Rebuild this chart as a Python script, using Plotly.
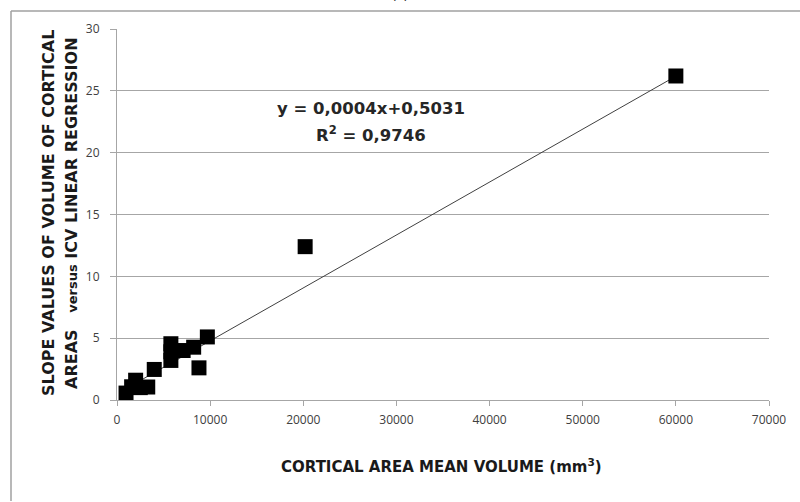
import plotly.graph_objects as go

# data
mean_volume = [970, 1570, 2000, 2500, 3300, 4000, 5785, 5785, 5785, 7100, 8230, 8800, 9700, 20200, 60000]
slope_values = [0.56, 1.07, 1.6, 1.0, 1.05, 2.47, 4.55, 3.9, 3.2, 4.0, 4.27, 2.6, 5.1, 12.4, 26.2]
x_ticks = [0, 10000, 20000, 30000, 40000, 50000, 60000, 70000]
y_ticks = [0, 5, 10, 15, 20, 25, 30]
trend_slope = 0.000428
trend_intercept = 0.5031
equation = "y = 0,0004x+0,5031"
r_squared = "R<sup>2</sup> = 0,9746"

line_x = [min(mean_volume), max(mean_volume)]
line_y = [trend_slope * v + trend_intercept for v in line_x]

fig = go.Figure()
fig.add_trace(go.Scatter(x=line_x, y=line_y, mode="lines",
                         line=dict(color="#404040", width=1), hoverinfo="skip"))
fig.add_trace(go.Scatter(x=mean_volume, y=slope_values, mode="markers",
                         marker=dict(symbol="square", size=15, color="black",
                                     line=dict(width=0))))

tick_font = "Open Sans, sans-serif"
title_font = "DejaVu Sans, sans-serif"
L, T, W, H = 117, 29, 652, 371
fig.update_layout(
    width=800, height=502,
    margin=dict(l=L, r=800 - L - W, t=T, b=502 - T - H),
    paper_bgcolor="white", plot_bgcolor="white",
    showlegend=False,
    font=dict(family=tick_font, size=12, color="#404040"),
    xaxis=dict(range=[0, 70000], tickvals=x_ticks, ticktext=[str(v) for v in x_ticks],
               showgrid=False, zeroline=False, showline=True, linecolor="#a6a6a6",
               linewidth=1, ticks="outside", ticklen=5, tickcolor="#a6a6a6",
               ticklabelstandoff=4,
               tickfont=dict(size=12, color="#404040")),
    yaxis=dict(range=[0, 30], tickvals=y_ticks, showgrid=True, gridcolor="#a6a6a6",
               gridwidth=1, zeroline=False, showline=True, linecolor="#a6a6a6",
               linewidth=1, ticks="outside", ticklen=6, tickcolor="#a6a6a6",
               ticklabelstandoff=8,
               tickfont=dict(size=12, color="#404040")),
)

fig.add_annotation(x=27300, y=23.6, xref="x", yref="y", text="<b>" + equation + "</b>",
                   showarrow=False, xanchor="center", yanchor="middle",
                   font=dict(size=16.5, color="#262626", family=title_font))
fig.add_annotation(x=27300, y=21.5, xref="x", yref="y", text="<b>" + r_squared + "</b>",
                   showarrow=False, xanchor="center", yanchor="middle",
                   font=dict(size=16.5, color="#262626", family=title_font))

# axis titles
fig.add_annotation(x=(441 - L) / W, y=1 - (466 - T) / H, xref="paper", yref="paper",
                   xanchor="center", yanchor="middle",
                   text="<b>CORTICAL AREA MEAN VOLUME (mm<sup>3</sup>)</b>",
                   showarrow=False, font=dict(size=15, color="#1a1a1a", family=title_font))
fig.add_annotation(x=(48 - L) / W, y=1 - (213 - T) / H, xref="paper", yref="paper",
                   xanchor="center", yanchor="middle",
                   text="<b>SLOPE VALUES OF VOLUME OF CORTICAL</b>", textangle=-90,
                   showarrow=False, font=dict(size=16, color="#1a1a1a", family=title_font))
fig.add_annotation(x=(71 - L) / W, y=1 - (213 - T) / H, xref="paper", yref="paper",
                   xanchor="center", yanchor="middle",
                   text="<b>AREAS   <span style='font-size:13px'>versus</span> ICV LINEAR REGRESSION</b>",
                   textangle=-90,
                   showarrow=False, font=dict(size=16, color="#1a1a1a", family=title_font))

# panel label, mostly cut off at the top edge
fig.add_annotation(x=(400 - L) / W, y=1 + (T - 4) / H, xref="paper", yref="paper",
                   xanchor="center", yanchor="bottom", text="(a)", showarrow=False,
                   font=dict(size=14, color="#262626", family=tick_font))

# outer chart border (left and top edges visible)
bx = (11 - L) / W
by = 1 + (T - 11) / H
fig.add_shape(type="line", xref="paper", yref="paper", x0=bx, x1=bx, y0=1 - (501 - T) / H, y1=by,
              line=dict(color="#a0a0a0", width=1.5), layer="above")
fig.add_shape(type="line", xref="paper", yref="paper", x0=bx, x1=(800 - L) / W, y0=by, y1=by,
              line=dict(color="#a0a0a0", width=1.5), layer="above")

fig.write_html("out.html", config={"displayModeBar": False, "staticPlot": True},
               post_script="document.body.style.margin='0px';")
